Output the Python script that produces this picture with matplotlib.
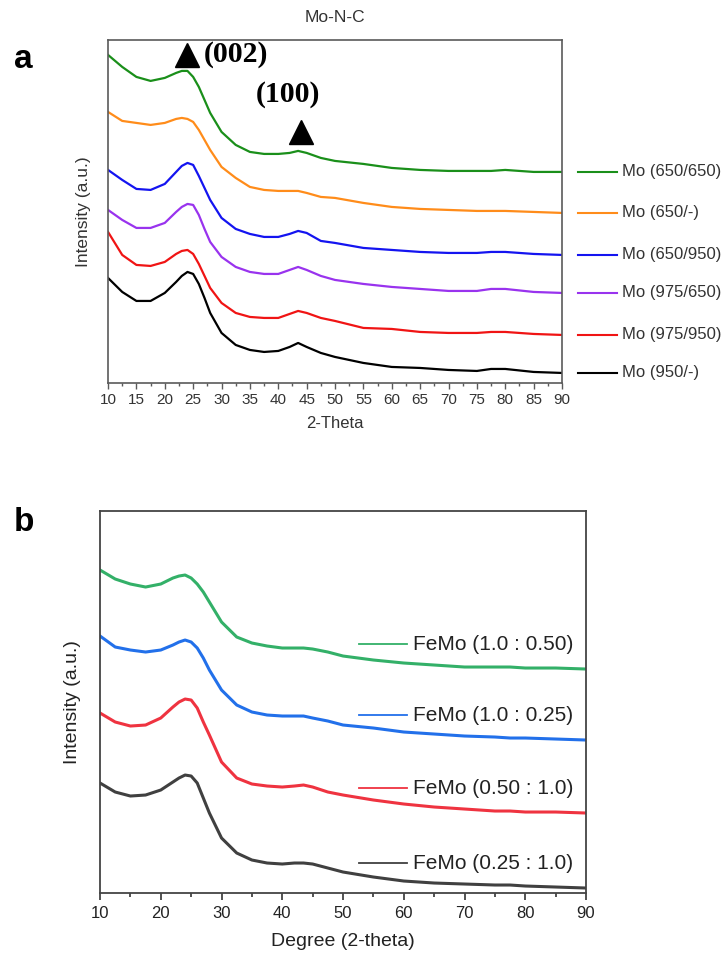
import matplotlib.pyplot as plt
import numpy as np

plt.rcParams['font.family'] = ['Liberation Sans', 'DejaVu Sans']

# 2-theta grid shared by both panels
two_theta = [10, 12.5, 15, 17.5, 20, 22, 23, 24, 25, 26, 27, 28, 30, 32.5, 35,
             37.5, 40, 42, 43.5, 45, 47.5, 50, 55, 60, 65, 70, 75, 77.5, 80, 85, 90]

# panel a: Mo-N-C, stacked intensities (a.u.)
mo_labels = ['Mo (650/650)', 'Mo (650/-)', 'Mo (650/950)',
             'Mo (975/650)', 'Mo (975/950)', 'Mo (950/-)']
mo_colors = ['#1a8f1a', '#ff8c1a', '#1414f0', '#9933ee', '#f01414', '#000000']
mo_650_650 = [328, 316, 306, 302, 305, 310, 312, 312, 306, 296, 283, 270, 251, 238, 231,
              229, 229, 230, 232, 230, 225, 222, 219, 215, 213, 212, 212, 212, 213, 211, 211]
mo_650_x = [271, 262, 260, 258, 260, 264, 265, 264, 261, 253, 243, 233, 216, 205, 196,
            193, 192, 192, 192, 190, 186, 185, 180, 176, 174, 173, 172, 172, 172, 171, 170]
mo_650_950 = [213, 203, 194, 193, 199, 211, 217, 220, 218, 207, 195, 183, 165, 154, 149,
              146, 146, 149, 152, 150, 142, 140, 135, 133, 131, 130, 130, 131, 131, 129, 128]
mo_975_650 = [173, 163, 155, 155, 160, 171, 176, 179, 178, 168, 154, 141, 126, 116, 111,
              109, 109, 113, 116, 113, 107, 103, 99, 96, 94, 92, 92, 94, 94, 91, 90]
mo_975_950 = [151, 128, 118, 117, 121, 129, 132, 133, 129, 119, 107, 95, 80, 70, 66,
              65, 65, 69, 72, 70, 65, 62, 55, 54, 51, 50, 50, 51, 51, 49, 48]
mo_950_x = [105, 91, 82, 82, 90, 101, 107, 111, 109, 99, 85, 70, 50, 38, 33,
            31, 32, 36, 40, 36, 30, 26, 20, 16, 15, 13, 12, 14, 14, 11, 10]
mo_series = [mo_650_650, mo_650_x, mo_650_950, mo_975_650, mo_975_950, mo_950_x]

peak_pos = [24, 44]
peak_labels = ['(002)', '(100)']

# panel b: FeMo ratios
femo_labels = ['FeMo (1.0 : 0.50)', 'FeMo (1.0 : 0.25)',
               'FeMo (0.50 : 1.0)', 'FeMo (0.25 : 1.0)']
femo_colors = ['#33b068', '#2270ea', '#ef3340', '#404040']
femo_1_050 = [323, 314, 309, 306, 309, 315, 317, 318, 315, 309, 301, 291, 271, 256, 250,
              247, 245, 245, 245, 244, 241, 237, 233, 230, 228, 226, 226, 226, 225, 225, 224]
femo_1_025 = [257, 246, 243, 241, 243, 248, 251, 253, 251, 245, 235, 223, 203, 188, 181,
              178, 177, 177, 177, 175, 172, 168, 165, 161, 159, 157, 156, 155, 155, 154, 153]
femo_050_1 = [180, 171, 167, 168, 175, 186, 191, 194, 193, 185, 171, 158, 131, 115, 109,
              107, 106, 107, 108, 106, 101, 98, 93, 89, 86, 84, 82, 82, 81, 81, 80]
femo_025_1 = [110, 101, 97, 98, 103, 111, 115, 118, 117, 110, 95, 80, 55, 40, 33,
              30, 29, 30, 30, 29, 25, 21, 16, 12, 10, 9, 8, 8, 7, 6, 5]
femo_series = [femo_1_050, femo_1_025, femo_050_1, femo_025_1]

fig = plt.figure(figsize=(7.28, 9.55), dpi=100)
ax1 = fig.add_axes([0.1484, 0.599, 0.6236, 0.3592])
ax2 = fig.add_axes([0.1374, 0.0649, 0.6676, 0.4])

spine_c = '#5a5a5a'
text_c = '#333333'

# --- panel a ---
for y, lab, c in zip(mo_series, mo_labels, mo_colors):
    ax1.plot(two_theta, y, color=c, lw=1.6, solid_joinstyle='round')
    ax1.plot([1.035, 1.121], [y[-1], y[-1]], color=c, lw=1.5,
             transform=ax1.get_yaxis_transform(), clip_on=False)
    ax1.text(1.132, y[-1], lab, transform=ax1.get_yaxis_transform(),
             va='center', ha='left', fontsize=12, color=text_c)

ax1.set_xlim(10, 90)
ax1.set_ylim(0, 343)
ax1.set_xticks(np.arange(10, 91, 5))
ax1.set_xticks(np.arange(12.5, 90, 5), minor=True)
ax1.set_yticks([])
ax1.tick_params(axis='x', direction='out', length=4, width=1, color=spine_c,
                labelsize=11, labelcolor=text_c, pad=3)
ax1.tick_params(axis='x', which='minor', direction='out', length=2.5, width=1, color=spine_c)
for s in ax1.spines.values():
    s.set_color(spine_c)
    s.set_linewidth(1.2)
ax1.set_xlabel('2-Theta', fontsize=12, color=text_c, labelpad=7)
ax1.set_ylabel('Intensity (a.u.)', fontsize=12.5, color=text_c, labelpad=12)
ax1.set_title('Mo-N-C', fontsize=12.5, color=text_c, pad=13)

# peak markers
ax1.plot(peak_pos[0], 328, marker='^', color='black', ms=17, clip_on=False)
ax1.text(peak_pos[0] + 2.9, 328, peak_labels[0], fontsize=21.5, fontweight='bold',
         family='Liberation Serif', va='center', ha='left')
ax1.plot(peak_pos[1], 251, marker='^', color='black', ms=17, clip_on=False)
ax1.text(peak_pos[1] - 2.2, 288, peak_labels[1], fontsize=21.5, fontweight='bold',
         family='Liberation Serif', va='center', ha='center')

# --- panel b ---
for y, lab, c in zip(femo_series, femo_labels, femo_colors):
    ax2.plot(two_theta, y, color=c, lw=2.2, solid_joinstyle='round')
    ax2.plot([0.533, 0.632], [y[-1] + 25, y[-1] + 25], color=c, lw=1.3,
             transform=ax2.get_yaxis_transform())
    ax2.text(0.644, y[-1] + 25, lab, transform=ax2.get_yaxis_transform(),
             va='center', ha='left', fontsize=15, color='#222222')

ax2.set_xlim(10, 90)
ax2.set_ylim(0, 382)
ax2.set_xticks(np.arange(10, 91, 10))
ax2.set_xticks(np.arange(15, 90, 10), minor=True)
ax2.set_yticks([])
ax2.tick_params(axis='x', direction='out', length=5, width=1.2, color='#333333',
                labelsize=12, labelcolor='#222222', pad=4)
ax2.tick_params(axis='x', which='minor', direction='out', length=3, width=1.2, color='#333333')
for s in ax2.spines.values():
    s.set_color('#444444')
    s.set_linewidth(1.3)
ax2.set_xlabel('Degree (2-theta)', fontsize=14, color='#222222', labelpad=9)
ax2.set_ylabel('Intensity (a.u.)', fontsize=14, color='#222222', labelpad=14)

fig.text(0.032, 0.938, 'a', fontsize=24, fontweight='bold', va='center', ha='center')
fig.text(0.033, 0.453, 'b', fontsize=24, fontweight='bold', va='center', ha='center')

fig.savefig('out.png', dpi=100)
